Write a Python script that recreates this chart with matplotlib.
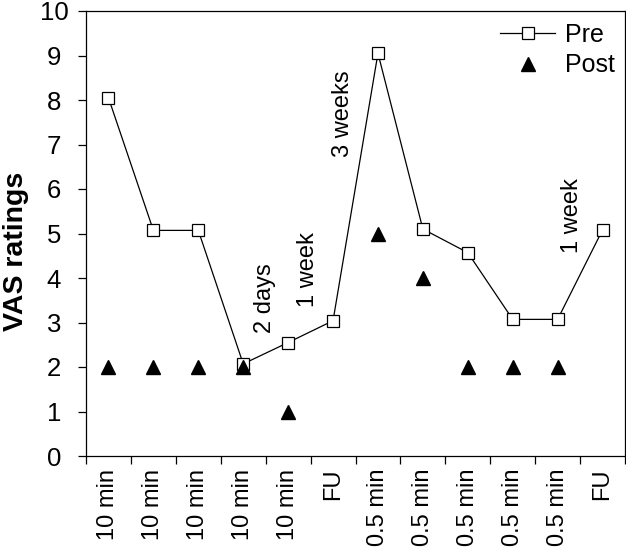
import matplotlib
matplotlib.use("Agg")
import matplotlib.pyplot as plt
import numpy as np

plt.rcParams["font.family"] = ["Liberation Sans", "DejaVu Sans"]

# data
categories = ["10 min", "10 min", "10 min", "10 min", "10 min", "FU",
              "0.5 min", "0.5 min", "0.5 min", "0.5 min", "0.5 min", "FU"]
pre_values = [8.05, 5.07, 5.07, 2.07, 2.55, 3.04, 9.05, 5.1, 4.57, 3.07, 3.07, 5.08]
post_values = [2, 2, 2, 2, 1, np.nan, 5, 4, 2, 2, 2, np.nan]

# interval notes (text, x in category units, bottom y)
notes = [
    ("2 days", 3.49, 2.76),
    ("1 week", 4.44, 3.35),
    ("3 weeks", 5.22, 6.72),
    ("1 week", 10.32, 4.56),
]

FS = 17

fig = plt.figure(figsize=(6.26, 5.49), dpi=100)
ax = fig.add_axes([86 / 626, 1 - 456 / 549, 539 / 626, 445 / 549])

x = np.arange(len(categories))
ax.plot(x, pre_values, color="black", linewidth=0.9, marker="s", markersize=8,
        markerfacecolor="white", markeredgecolor="black", markeredgewidth=0.9,
        label="Pre", zorder=3)
ax.plot(x, post_values, linestyle="none", marker="^", markersize=9.5,
        color="black", label="Post", zorder=4)

for txt, xn, yn in notes:
    ax.text(xn, yn, txt, rotation=90, ha="center", va="bottom", fontsize=FS)

ax.set_xlim(-0.5, len(categories) - 0.5)
ax.set_ylim(0, 10)
ax.set_yticks(range(0, 11))
ax.tick_params(axis="y", direction="out", length=6, width=0.9, labelsize=18.5, pad=17)
for lbl in ax.get_yticklabels():
    lbl.set_horizontalalignment("center")

ax.set_xticks(x)
ax.set_xticklabels(categories, rotation=90, fontsize=FS)
ax.set_xticks(np.arange(-0.5, len(categories), 1), minor=True)
ax.tick_params(axis="x", which="major", length=0, pad=9)
ax.tick_params(axis="x", which="minor", direction="out", length=6, width=0.9)

for spine in ax.spines.values():
    spine.set_linewidth(0.9)

ax.set_ylabel("VAS ratings", fontsize=20.5, fontweight="bold")
ax.yaxis.set_label_coords(-0.105, 0.46)

ax.legend(loc="upper left", bbox_to_anchor=(500 / 626, 1 - 23 / 549),
          bbox_transform=fig.transFigure, frameon=False, fontsize=18,
          handlelength=2.2, handletextpad=0.4, labelspacing=0.25,
          borderpad=0, borderaxespad=0)

fig.savefig("out.png", dpi=100)
